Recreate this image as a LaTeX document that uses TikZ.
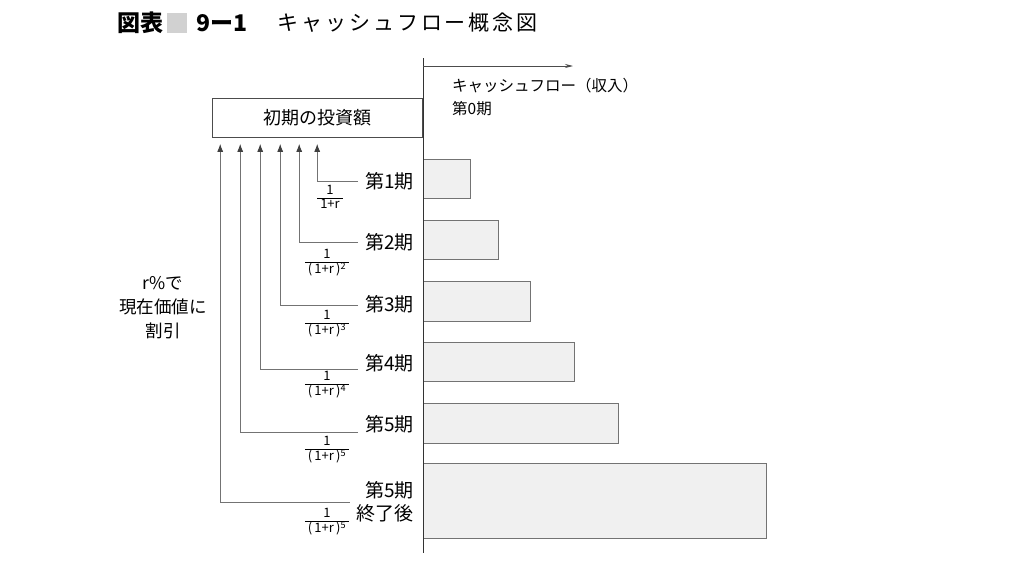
\documentclass[tikz,border=0pt]{standalone}
\usepackage{fontspec}
\setmainfont{Noto Sans CJK JP}
\usetikzlibrary{positioning,arrows.meta}

\newcommand{\disc}[1]{\begin{tabular}{@{\hspace{3pt}}c@{\hspace{3pt}}}1\\\hline #1\end{tabular}}

\begin{document}
\begin{tikzpicture}[
    x=1pt, y=-1pt,
    period/.style={anchor=east, inner xsep=7pt, inner ysep=0pt, align=right, font=\fontsize{19}{23}\selectfont},
    frac/.style={anchor=north, inner sep=0pt, font=\fontsize{13}{14}\selectfont},
    bar/.style={draw=black!55, fill=black!6, line width=0.9pt, anchor=west, minimum height=39pt, inner sep=0pt},
    flow/.style={draw=black!55, line width=0.9pt, -{Latex[length=8pt,width=6pt,color=black!75]}, shorten >=6pt},
    axis/.style={draw=black!80, line width=0.9pt}
]
    \useasboundingbox (0,0) rectangle (1024,560);

    % title
    \node [anchor=west, inner sep=0pt, font=\fontsize{23}{27}\selectfont\bfseries] (fig) at (117,23) {図表};
    \node [right=3pt of fig, fill=black!18, minimum size=20pt, inner sep=0pt] (mark) {};
    \node [right=9pt of mark, inner sep=0pt, font=\fontsize{23}{27}\selectfont\bfseries] (num) {9ー1};
    \node [right=30pt of num, inner sep=0pt, font=\fontsize{21}{25}\selectfont\addfontfeature{LetterSpace=14}] (title) {キャッシュフロー概念図};

    % bars
    \node [bar, minimum width=47pt] (b1) at (423,178.5) {};
    \node [bar, minimum width=75pt] (b2) at (423,239.5) {};
    \node [bar, minimum width=107pt, minimum height=40pt] (b3) at (423,301) {};
    \node [bar, minimum width=151pt] (b4) at (423,361.5) {};
    \node [bar, minimum width=195pt, minimum height=40pt] (b5) at (423,423) {};
    \node [bar, minimum width=343pt, minimum height=75pt] (b6) at (423,500.5) {};

    % axis
    \coordinate (top) at (423,58);
    \coordinate (bot) at (423,553);
    \coordinate (cf) at (423,66);
    \coordinate (cfend) at (573,66);
    \draw [axis] (top) -- (bot);
    \draw [black!70, line width=0.8pt, -{Stealth[length=8pt,width=4pt]}] (cf) -- (cfend);
    \node [anchor=north west, align=left, inner sep=0pt, font=\fontsize{15.5}{23}\selectfont] (cash) at (452,78) {キャッシュフロー（収入）\\第0期};

    \node [draw=black!70, line width=0.8pt, minimum width=210pt, minimum height=39pt, anchor=north east, inner sep=0pt, font=\fontsize{18}{22}\selectfont] (invest) at (423,98) {初期の投資額};

    \node [align=center, inner sep=0pt, font=\fontsize{17.5}{24}\selectfont] (rate) at (163,308) {r\%で\\現在価値に\\割引};

    % periods
    \node [period] (p1) at (421,181) {第1期};
    \node [period] (p2) at (421,242) {第2期};
    \node [period] (p3) at (421,304) {第3期};
    \node [period] (p4) at (421,363) {第4期};
    \node [period] (p5) at (421,424) {第5期};
    \node [period] (p6) at (421,502) {第5期\\終了後};

    \draw [flow] (p1.west) -| ([xshift=105pt]invest.south west);
    \draw [flow] (p2.west) -| ([xshift=87pt]invest.south west);
    \draw [flow] ([yshift=-1pt]p3.west) -| ([xshift=68pt]invest.south west);
    \draw [flow] ([yshift=-6pt]p4.west) -| ([xshift=48pt]invest.south west);
    \draw [flow] ([yshift=-8pt]p5.west) -| ([xshift=28pt]invest.south west);
    \draw [flow] (p6.west) -| ([xshift=8pt]invest.south west);

    % discount factors
    \node [frac] (f1) at (330,184) {\disc{1+r}};
    \node [frac] (f2) at (327,248) {\disc{(\,1+r\,)\textsuperscript{2}}};
    \node [frac] (f3) at (327,309) {\disc{(\,1+r\,)\textsuperscript{3}}};
    \node [frac] (f4) at (327,370) {\disc{(\,1+r\,)\textsuperscript{4}}};
    \node [frac] (f5) at (327,435) {\disc{(\,1+r\,)\textsuperscript{5}}};
    \node [frac] (f6) at (327,507) {\disc{(\,1+r\,)\textsuperscript{5}}};
\end{tikzpicture}
\end{document}
